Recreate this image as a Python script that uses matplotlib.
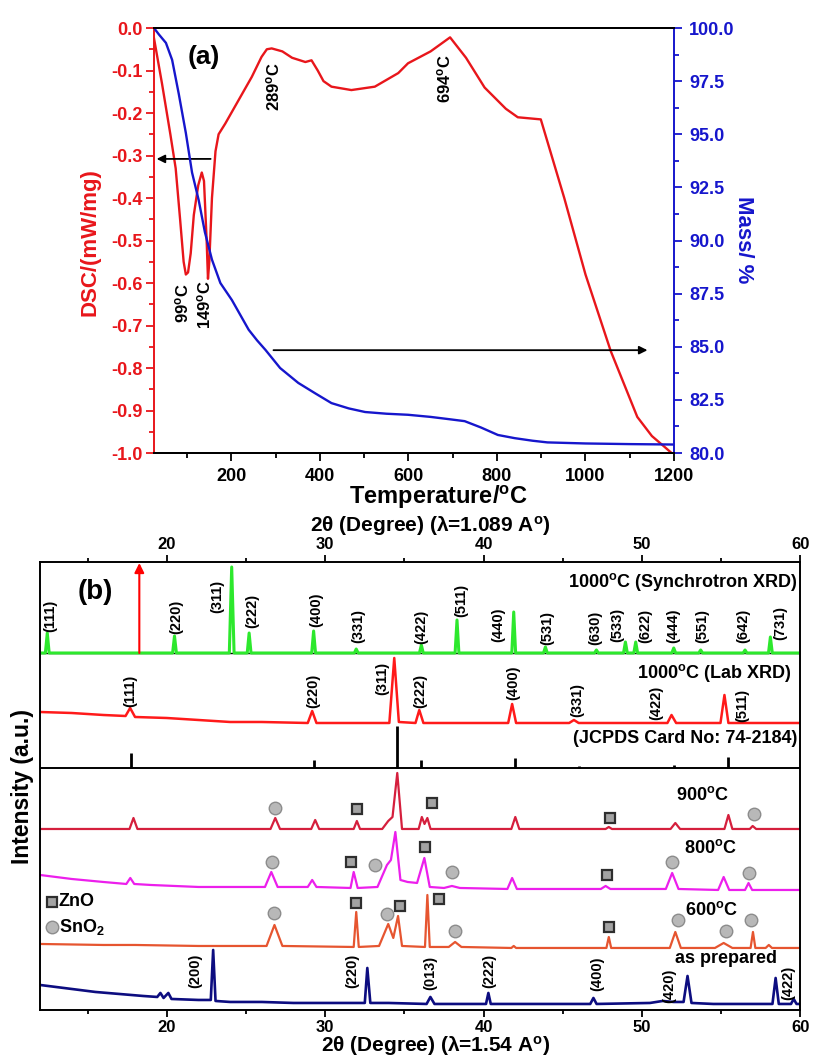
import matplotlib
matplotlib.use('Agg')
import matplotlib.pyplot as plt
from matplotlib.ticker import MultipleLocator, FormatStrFormatter

plt.rcParams['font.family'] = ['Liberation Sans', 'DejaVu Sans']
plt.rcParams['font.weight'] = 'bold'
plt.rcParams['axes.unicode_minus'] = False
plt.rcParams['mathtext.fontset'] = 'custom'
plt.rcParams['mathtext.rm'] = 'Liberation Sans:bold'
plt.rcParams['mathtext.bf'] = 'Liberation Sans:bold'
plt.rcParams['mathtext.it'] = 'Liberation Sans:bold'

DEG = r'$^{\mathrm{o}}$'
RED = '#e8161b'
BLUE = '#1616cc'

# ---------------- (a) DSC / TG
dsc_temp = [25, 43, 62, 74, 84, 92, 97, 102, 108, 115, 125, 133, 138, 144, 147, 150, 156, 164,
            171, 186, 216, 246, 268, 280, 291, 315, 337, 367, 381, 395, 408, 426, 471, 524, 577,
            599, 650, 694, 730, 772, 820, 847, 899, 952, 1000, 1057, 1117, 1150, 1178, 1200]
dsc_val = [-0.024, -0.13, -0.25, -0.33, -0.45, -0.55, -0.58, -0.575, -0.53, -0.44, -0.37,
           -0.34, -0.36, -0.5, -0.59, -0.55, -0.40, -0.29, -0.25, -0.225, -0.17, -0.115,
           -0.068, -0.05, -0.048, -0.055, -0.07, -0.08, -0.076, -0.1, -0.125, -0.138, -0.146,
           -0.138, -0.106, -0.083, -0.055, -0.022, -0.07, -0.14, -0.19, -0.21, -0.215, -0.40,
           -0.58, -0.76, -0.915, -0.96, -0.985, -1.005]

tg_temp = [25, 36, 52, 66, 81, 97, 111, 126, 140, 156, 175, 201, 220, 239, 258, 277, 310, 351,
           390, 426, 465, 502, 550, 599, 650, 689, 727, 764, 802, 840, 880, 914, 1000, 1100, 1200]
tg_mass = [100, 99.7, 99.3, 98.5, 96.9, 95.06, 93.2, 91.9, 90.4, 89.1, 88.0, 87.2, 86.5, 85.8,
           85.3, 84.85, 84.0, 83.3, 82.8, 82.35, 82.1, 81.93, 81.85, 81.8, 81.7, 81.6, 81.5,
           81.2, 80.85, 80.7, 80.58, 80.5, 80.45, 80.42, 80.4]

peak_labels_a = ['99' + DEG + 'C', '149' + DEG + 'C', '289' + DEG + 'C', '694' + DEG + 'C']
peak_label_t = [90, 139, 295, 682]
peak_label_top = [-0.60, -0.593, -0.08, -0.062]

# ---------------- (b) XRD patterns (2theta, relative intensity)
synchro = [(12, 0), (12.34, 0), (12.46, 20), (12.58, 0), (20.37, 0), (20.49, 17), (20.61, 0),
           (23.95, 0), (24.1, 86), (24.25, 0), (25.08, 0), (25.2, 20), (25.32, 0), (29.15, 0),
           (29.27, 22), (29.39, 0), (31.84, 0), (31.96, 4), (32.08, 0), (35.95, 0), (36.07, 8),
           (36.19, 0), (38.2, 0), (38.32, 33), (38.44, 0), (41.78, 0), (41.9, 41), (42.02, 0),
           (43.78, 0), (43.9, 6), (44.02, 0), (47.0, 0), (47.12, 3), (47.24, 0), (48.83, 0),
           (48.95, 11), (49.07, 0), (49.48, 0), (49.6, 11), (49.72, 0), (51.88, 0), (52.0, 5),
           (52.12, 0), (53.58, 0), (53.7, 3), (53.82, 0), (56.38, 0), (56.5, 3), (56.62, 0),
           (57.98, 0), (58.1, 16), (58.22, 0), (60, 0)]
lab = [(12, 11), (14, 10), (16, 8), (17.4, 7), (17.69, 15), (18.0, 6), (20, 5), (22, 3), (24, 1),
       (26, 1), (28.9, 0), (29.18, 12), (29.45, 0), (34.05, 0), (34.36, 65), (34.65, 1),
       (35.7, 0), (35.94, 13), (36.2, 0), (41.55, 0), (41.8, 19), (42.05, 0), (45.4, 0),
       (45.7, 3), (46.0, 0), (51.6, 0), (51.86, 8), (52.15, 0), (54.95, 0), (55.2, 28),
       (55.45, 0), (60, 0)]
jcpds_pos = [17.75, 29.3, 34.55, 36.07, 41.95, 46.0, 51.99, 55.4]
jcpds_h = [15, 8, 42, 8, 10, 2, 3, 11]
t900 = [(12, 0), (17.65, 0), (17.9, 11), (18.15, 0), (26.55, 0), (26.85, 11), (27.15, 0),
        (29.12, 0), (29.37, 9), (29.62, 0), (31.8, 0), (32.0, 8), (32.2, 0), (33.6, 0),
        (33.98, 8), (34.25, 12), (34.55, 56), (34.85, 0), (35.9, 0), (36.1, 12), (36.27, 5),
        (36.45, 11), (36.65, 0), (41.75, 0), (42.0, 12), (42.25, 0), (47.7, 0), (47.9, 2),
        (48.1, 0), (51.8, 0), (52.1, 6), (52.4, 0), (55.2, 0), (55.45, 14), (55.7, 0),
        (56.8, 0), (56.98, 3), (57.2, 0), (60, 0)]
t800 = [(12, 15), (14, 11), (16, 8), (17.45, 6), (17.7, 12), (17.95, 6), (19, 5), (22, 3),
        (26.2, 3), (26.6, 18), (27.0, 3), (28.9, 3), (29.18, 10), (29.45, 3), (31.6, 2),
        (31.8, 18), (32.05, 2), (33.3, 3), (33.9, 25), (34.15, 30), (34.43, 58), (34.75, 10),
        (35.2, 8), (35.8, 7), (36.26, 32), (36.6, 3), (37.5, 2), (38.0, 4), (38.5, 2),
        (41.5, 1), (41.8, 12), (42.1, 1), (47.4, 1), (47.7, 4), (48.0, 1), (51.5, 1),
        (51.9, 17), (52.3, 1), (54.8, 0), (55.15, 13), (55.5, 0), (56.5, 0), (56.72, 7),
        (56.95, 0), (60, 0)]
t600 = [(12, 4), (16, 3), (18, 3), (22, 2), (26.3, 2), (26.8, 23), (27.3, 2), (31.8, 1),
        (31.96, 36), (32.12, 1), (33.4, 2), (33.98, 24), (34.3, 10), (34.6, 32), (34.85, 2),
        (36.3, 1), (36.45, 53), (36.6, 1), (37.8, 1), (38.2, 6), (38.6, 1), (41.75, 0),
        (41.9, 2), (42.05, 0), (47.75, 0), (47.9, 11), (48.05, 0), (51.75, 0), (52.1, 16),
        (52.45, 0), (54.6, 0), (55.15, 5), (55.7, 0), (56.85, 0), (57.0, 16), (57.15, 0),
        (57.8, 0), (58.0, 3), (58.2, 0), (60, 0)]
prep = [(12, 20), (13, 18), (14, 16), (15.5, 13), (17, 11), (18.5, 9), (19.4, 8), (19.6, 12),
        (19.8, 7), (20.1, 12), (20.3, 6), (22, 5), (22.78, 5), (22.93, 55), (23.08, 4), (24, 3),
        (26, 3), (28, 2), (30, 2), (32.5, 2), (32.66, 37), (32.85, 2), (34, 2), (36.4, 1),
        (36.64, 8), (36.9, 1), (40.15, 1), (40.3, 12), (40.45, 1), (46.73, 1), (46.93, 7),
        (47.13, 1), (50.5, 2), (51.3, 4), (52.0, 3), (52.62, 3), (52.87, 29), (53.12, 2),
        (54.5, 1), (58.23, 1), (58.43, 27), (58.63, 1), (59.4, 1), (59.57, 6), (59.75, 1),
        (60, 1)]

synchro_hkl = ['(111)', '(220)', '(311)', '(222)', '(400)', '(331)', '(422)', '(511)', '(440)',
               '(531)', '(630)', '(533)', '(622)', '(444)', '(551)', '(642)', '(731)']
synchro_hkl_x = [12.63, 20.63, 23.16, 25.37, 29.43, 32.09, 36.07, 38.6, 40.93, 44.03, 47.06,
                 48.45, 50.2, 51.99, 53.82, 56.4, 58.75]
synchro_hkl_y = [21, 19, 40, 25, 26, 10, 9, 36, 11, 8, 8, 11, 10, 10, 10, 10, 13]
lab_hkl = ['(111)', '(220)', '(311)', '(222)', '(400)', '(331)', '(422)', '(511)']
lab_hkl_x = [17.69, 29.25, 33.6, 36.0, 41.88, 45.92, 50.9, 56.35]
lab_hkl_y = [16, 15, 28, 15, 23, 6, 3, 1]
prep_hkl = ['(200)', '(220)', '(013)', '(222)', '(400)', '(420)', '(422)']
prep_hkl_x = [21.8, 31.7, 36.64, 40.36, 47.2, 51.7, 59.2]
prep_hkl_y = [17, 17, 15, 17, 14, 2, 5]

zno_900_x, zno_900_y = [32.0, 36.76, 47.95], [20, 26, 11]
sno2_900_x, sno2_900_y = [26.85, 57.04], [21, 15]
zno_800_x, zno_800_y = [31.63, 36.3, 47.8], [28, 43, 15]
sno2_800_x, sno2_800_y = [26.65, 33.16, 38.0, 51.9, 56.72], [28, 25, 18, 28, 17]
zno_600_x, zno_600_y = [31.96, 34.74, 37.2, 47.9], [45, 42, 49, 21]
sno2_600_x, sno2_600_y = [26.8, 33.9, 38.2, 52.3, 55.27, 56.85], [35, 34, 17, 28, 17, 28]

two_theta_ticks = [20, 30, 40, 50, 60]

# vertical stacking of the patterns inside panel (b)
off_synchro, off_lab, off_jcpds = 357, 287, 242
off_900, off_800, off_600, off_prep = 181, 120, 62, 5

fig = plt.figure(figsize=(8.16, 10.57), dpi=100)

# ================= panel (a)
ax1 = fig.add_axes([0.1887, 0.5714, 0.6373, 0.4021])
ax2 = ax1.twinx()
ax1.plot(dsc_temp, dsc_val, color=RED, lw=1.7, zorder=3)
ax2.plot(tg_temp, tg_mass, color=BLUE, lw=1.7)
ax1.set_xlim(25, 1200)
ax1.set_ylim(-1.0, 0.0)
ax2.set_ylim(80, 100)

ax1.xaxis.set_major_locator(MultipleLocator(200))
ax1.xaxis.set_minor_locator(MultipleLocator(100))
ax1.yaxis.set_major_locator(MultipleLocator(0.1))
ax1.yaxis.set_minor_locator(MultipleLocator(0.05))
ax1.yaxis.set_major_formatter(FormatStrFormatter('%.1f'))
ax2.yaxis.set_major_locator(MultipleLocator(2.5))
ax2.yaxis.set_minor_locator(MultipleLocator(1.25))
ax2.yaxis.set_major_formatter(FormatStrFormatter('%.1f'))

ax1.tick_params(axis='y', which='both', colors=RED, labelsize=13, pad=2, width=1.3)
ax1.tick_params(axis='y', which='major', length=6)
ax1.tick_params(axis='y', which='minor', length=3.5)
ax1.tick_params(axis='x', which='both', labelsize=13, pad=5, width=1.3)
ax1.tick_params(axis='x', which='major', length=6)
ax1.tick_params(axis='x', which='minor', length=3.5)
ax2.tick_params(axis='y', which='both', colors=BLUE, labelsize=13, pad=5, width=1.3)
ax2.tick_params(axis='y', which='major', length=6)
ax2.tick_params(axis='y', which='minor', length=3.5)

ax1.spines['left'].set_color(RED)
ax1.spines['right'].set_visible(False)
ax2.spines['left'].set_visible(False)
ax2.spines['right'].set_color(BLUE)
for ax in (ax1, ax2):
    for s in ax.spines.values():
        s.set_linewidth(1.4)

for lbl, t, y in zip(peak_labels_a, peak_label_t, peak_label_top):
    ax1.text(t, y, lbl, rotation=90, ha='center', va='top', fontsize=12)
ax1.text(137, -0.068, '(a)', fontsize=19, fontweight='heavy', ha='center', va='center')

ax1.annotate('', xy=(31, -0.308), xytext=(153, -0.308),
             arrowprops=dict(arrowstyle='-|>', color='black', lw=1.3, mutation_scale=12,
                             shrinkA=0, shrinkB=0))
ax1.annotate('', xy=(1140, -0.758), xytext=(295, -0.758),
             arrowprops=dict(arrowstyle='-|>', color='black', lw=1.3, mutation_scale=12,
                             shrinkA=0, shrinkB=0))

fig.text(0.110, 0.771, 'DSC/(mW/mg)', rotation=90, ha='center', va='center',
         fontsize=16, color=RED)
fig.text(0.911, 0.773, 'Mass/ %', rotation=270, ha='center', va='center',
         fontsize=16, color=BLUE)
fig.text(0.537, 0.529, 'Temperature/' + DEG + 'C', ha='center', va='center', fontsize=17)

# ================= panel (b)
ax3 = fig.add_axes([0.0490, 0.0445, 0.9320, 0.4238])
ax3.set_xlim(12, 60)
ax3.set_ylim(0, 448)


def draw(points, off, color, lw=1.6):
    xs = [p[0] for p in points]
    ys = [p[1] + off for p in points]
    ax3.plot(xs, ys, color=color, lw=lw, solid_joinstyle='round')


ax3.axhline(off_jcpds, color='black', lw=1.4)
ax3.axhline(off_synchro, color='black', lw=1.0)
draw(synchro, off_synchro, '#2de82d', lw=2.2)
draw(lab, off_lab, '#ff1a1a', lw=1.8)
ax3.vlines(jcpds_pos, off_jcpds, [off_jcpds + h for h in jcpds_h], color='black', lw=2)
draw(t900, off_900, '#d51f3d')
draw(t800, off_800, '#ec1fec')
draw(t600, off_600, '#e65530')
draw(prep, off_prep, '#0d0d80', lw=1.9)

ax3.annotate('', xy=(18.27, 447), xytext=(18.27, off_synchro),
             arrowprops=dict(arrowstyle='-|>', color='red', lw=1.5, mutation_scale=14,
                             shrinkA=0, shrinkB=0))

for lbls, xs, ys, off in ((synchro_hkl, synchro_hkl_x, synchro_hkl_y, off_synchro),
                          (lab_hkl, lab_hkl_x, lab_hkl_y, off_lab),
                          (prep_hkl, prep_hkl_x, prep_hkl_y, off_prep)):
    for lbl, x, y in zip(lbls, xs, ys):
        ax3.text(x, y + off, lbl, rotation=90, ha='center', va='bottom', fontsize=10.5)

sq = dict(marker='s', ms=7, mfc='#a3a3a3', mec='#2e2e2e', mew=1.6, ls='none')
ci = dict(marker='o', ms=9, mfc='#b8b8b8', mec='#8c8c8c', mew=1.0, ls='none')
for zx, zy, sx, sy, off in ((zno_900_x, zno_900_y, sno2_900_x, sno2_900_y, off_900),
                            (zno_800_x, zno_800_y, sno2_800_x, sno2_800_y, off_800),
                            (zno_600_x, zno_600_y, sno2_600_x, sno2_600_y, off_600)):
    ax3.plot(zx, [v + off for v in zy], **sq)
    ax3.plot(sx, [v + off for v in sy], **ci)

# small legend drawn in the corner as in the original
ax3.plot([12.76], [108], **sq)
ax3.plot([12.76], [83], **ci)
ax3.text(13.2, 108, 'ZnO', fontsize=13, va='center')
ax3.text(13.2, 83, 'SnO$_2$', fontsize=13, va='center')

ax3.text(15.47, 418, '(b)', fontsize=20, fontweight='heavy', ha='center', va='center')
ax3.text(59.8, 428, '1000' + DEG + 'C (Synchrotron XRD)', fontsize=13, ha='right', va='center')
ax3.text(59.4, 337, '1000' + DEG + 'C (Lab XRD)', fontsize=13, ha='right', va='center')
ax3.text(59.8, 271, '(JCPDS Card No: 74-2184)', fontsize=13, ha='right', va='center')
ax3.text(53.8, 215, '900' + DEG + 'C', fontsize=13, ha='center', va='center')
ax3.text(54.3, 162, '800' + DEG + 'C', fontsize=13, ha='center', va='center')
ax3.text(54.4, 100, '600' + DEG + 'C', fontsize=13, ha='center', va='center')
ax3.text(55.3, 51, 'as prepared', fontsize=13, ha='center', va='center')

# same 2theta scale drawn on both the top and the bottom edge
ax3.set_xticks(two_theta_ticks)
ax3.xaxis.set_minor_locator(MultipleLocator(5))
ax3.set_yticks([])
ax3.tick_params(axis='x', which='both', top=True, labeltop=True, labelsize=12, pad=2,
                width=1.3)
ax3.tick_params(axis='x', which='major', length=5)
ax3.tick_params(axis='x', which='minor', length=3)
for s in ax3.spines.values():
    s.set_linewidth(1.4)

fig.text(0.528, 0.5025, '2θ (Degree) (λ=1.089 A' + DEG + ')', ha='center', va='center',
         fontsize=15)
fig.text(0.534, 0.0105, '2θ (Degree) (λ=1.54 A' + DEG + ')', ha='center', va='center',
         fontsize=15)
fig.text(0.027, 0.256, 'Intensity (a.u.)', rotation=90, ha='center', va='center', fontsize=16.5)

fig.savefig('out.png', dpi=100)
